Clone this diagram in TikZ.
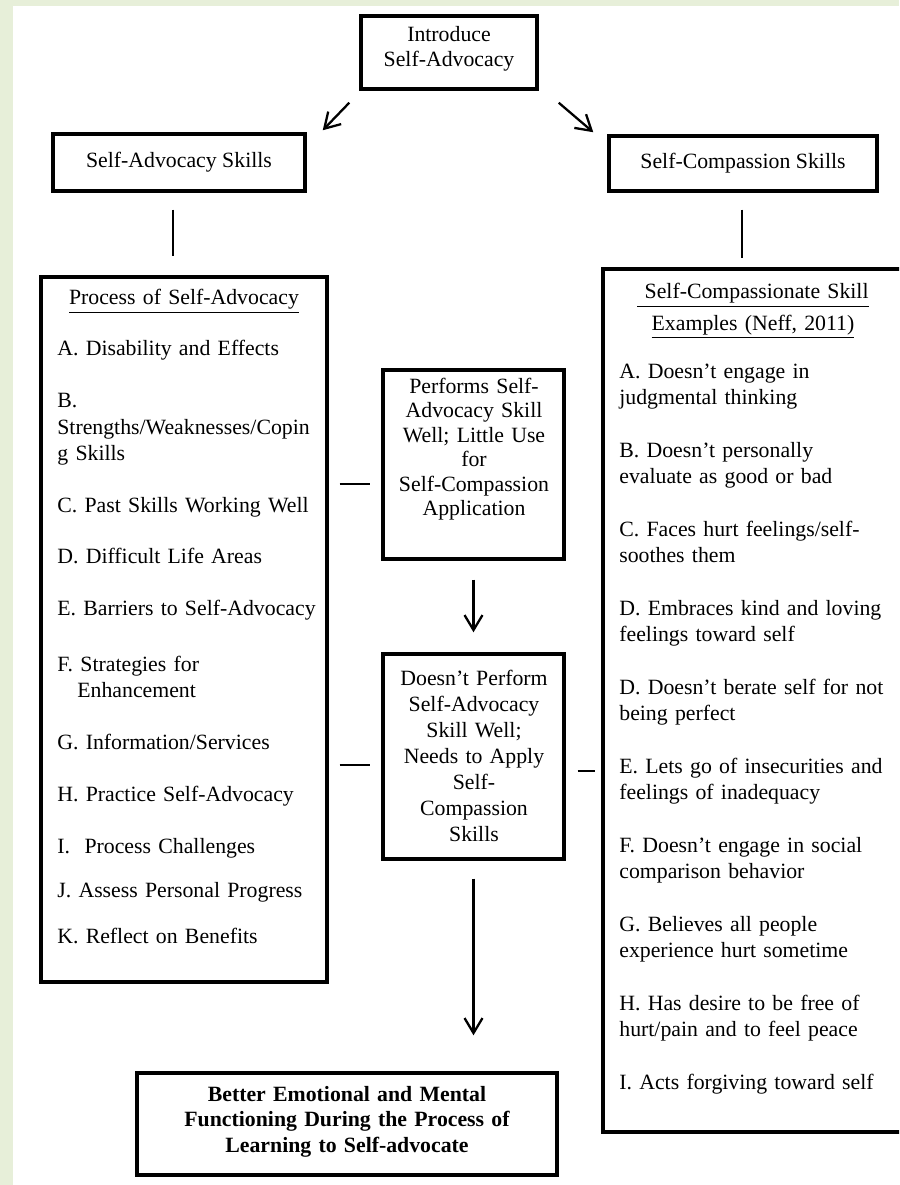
\documentclass[tikz,border=0pt]{standalone}
\usepackage{fontspec}
\setmainfont{Liberation Serif}
\usetikzlibrary{arrows.meta,positioning}
\definecolor{pagegreen}{HTML}{E7EFD9}

\begin{document}
\begin{tikzpicture}[
    x=0.02cm, y=-0.02cm,
    flowbox/.style={draw,line width=2pt,inner sep=0pt,font=\fontsize{12.4}{14.8}\selectfont},
    boxlabel/.style={inner sep=0pt,align=center,text width=#1,font=\fontsize{12.4}{14.8}\selectfont},
    listtext/.style={inner sep=0pt,align=left,text width=5.6cm,anchor=base west,font=\fontsize{12.4}{14.8}\selectfont},
    arrow/.style={-{Straight Barb[length=3mm,width=3.6mm]},line width=1.3pt},
    link/.style={line width=1.4pt}
  ]
    \useasboundingbox (0,0) rectangle (899,1185);
    \clip (0,0) rectangle (899,1185);
    \fill[pagegreen] (0,0) rectangle (899,1185);
    \fill[white] (13,6) rectangle (899,1185);

    % top of the chart
    \node[flowbox,minimum width=3.52cm,minimum height=1.46cm] (intro) at (449,52.5) {};
    \node[boxlabel=3.4cm,anchor=base,font=\fontsize{12.4}{14.2}\selectfont] (introtext) at (449,42) {Introduce\\Self-Advocacy};
    \node[flowbox,minimum width=5.04cm,minimum height=1.14cm] (advskills) at (179,162.5) {Self-Advocacy Skills};
    \node[flowbox,minimum width=5.36cm,minimum height=1.1cm] (compskills) at (743,163.5) {Self-Compassion Skills};

    % left list
    \node[flowbox,minimum width=5.72cm,minimum height=14.1cm] (proc) at (184,629.5) {};
    \node[boxlabel=5.4cm,anchor=base] (prochead) at (184,305) {\underline{Process of Self-Advocacy}};
    \node[listtext] (procitems) at (57,356) {A. Disability and Effects\\[0.52cm]
      B.\\Strengths/Weaknesses/Copin\\g Skills\\[0.52cm]
      C. Past Skills Working Well\\[0.52cm]
      D. Difficult Life Areas\\[0.52cm]
      E. Barriers to Self-Advocacy\\[0.6cm]
      F. Strategies for\\\hspace*{0.4cm}Enhancement\\[0.52cm]
      G. Information/Services\\[0.52cm]
      H. Practice Self-Advocacy\\[0.52cm]
      I.\ \ Process Challenges\\[0.36cm]
      J. Assess Personal Progress\\[0.4cm]
      K. Reflect on Benefits};

    % right list
    \node[flowbox,minimum width=6.94cm,minimum height=17.26cm] (compex) at (776.5,700.5) {};
    \node[boxlabel=5.2cm,anchor=base] (comphead) at (753,299) {\underline{\ Self-Compassionate Skill}\\[0.1cm]\underline{Examples (Neff, 2011)}};
    \node[listtext] (compitems) at (619,378) {A. Doesn’t engage in\\judgmental thinking\\[0.54cm]
      B. Doesn’t personally\\evaluate as good or bad\\[0.54cm]
      C. Faces hurt feelings/self-\\soothes them\\[0.54cm]
      D. Embraces kind and loving\\feelings toward self\\[0.54cm]
      D. Doesn’t berate self for not\\being perfect\\[0.54cm]
      E. Lets go of insecurities and\\feelings of inadequacy\\[0.54cm]
      F. Doesn’t engage in social\\comparison behavior\\[0.54cm]
      G. Believes all people\\experience hurt sometime\\[0.54cm]
      H. Has desire to be free of\\hurt/pain and to feel peace\\[0.54cm]
      I. Acts forgiving toward self};

    % middle column
    \node[flowbox,minimum width=3.62cm,minimum height=3.78cm] (perf) at (473.5,464.5) {};
    \node[boxlabel=3.4cm,anchor=base,font=\fontsize{12.4}{14}\selectfont] (perftext) at (474,393) {Performs Self-\\Advocacy Skill\\Well; Little Use\\for\\Self-Compassion\\Application};
    \node[flowbox,minimum width=3.62cm,minimum height=4.1cm] (notperf) at (473.5,756.5) {};
    \node[boxlabel=3.4cm,anchor=base] (notperftext) at (474,685) {Doesn’t Perform\\Self-Advocacy\\Skill Well;\\Needs to Apply\\Self-\\Compassion\\Skills};

    \node[flowbox,minimum width=8.4cm,minimum height=2.04cm] (result) at (347,1124) {};
    \node[boxlabel=8cm,anchor=base,font=\bfseries\fontsize{12.4}{14.6}\selectfont] (resulttext) at (347,1101) {Better Emotional and Mental\\Functioning During the Process of\\Learning to Self-advocate};

    % connectors
    \draw[arrow] ([shift={(-10,12)}]intro.south west) -- ([shift={(16,-2)}]advskills.north east);
    \draw[arrow] ([shift={(20,12)}]intro.south east) -- ([shift={(-14,-2)}]compskills.north west);
    \draw[link,shorten <=0.34cm,shorten >=0.38cm] (advskills.south -| 173,0) -- (proc.north -| 173,0);
    \draw[link,shorten <=0.34cm,shorten >=0.18cm] (compskills.south -| 742,0) -- (compex.north -| 742,0);
    \draw[link,shorten <=0.22cm,shorten >=0.22cm] (proc.east |- 0,484) -- (perf.west |- 0,484);
    \draw[link,shorten <=0.22cm,shorten >=0.22cm] (proc.east |- 0,765) -- (notperf.west |- 0,765);
    \draw[link,shorten <=0.24cm,shorten >=0.12cm] (notperf.east |- 0,771) -- (compex.west |- 0,771);
    \draw[arrow,shorten <=0.38cm,shorten >=0.4cm] (perf) -- (notperf);
    \draw[arrow,shorten <=0.36cm,shorten >=0.72cm] (notperf.south) -- (notperf.south |- result.north);
\end{tikzpicture}
\end{document}
